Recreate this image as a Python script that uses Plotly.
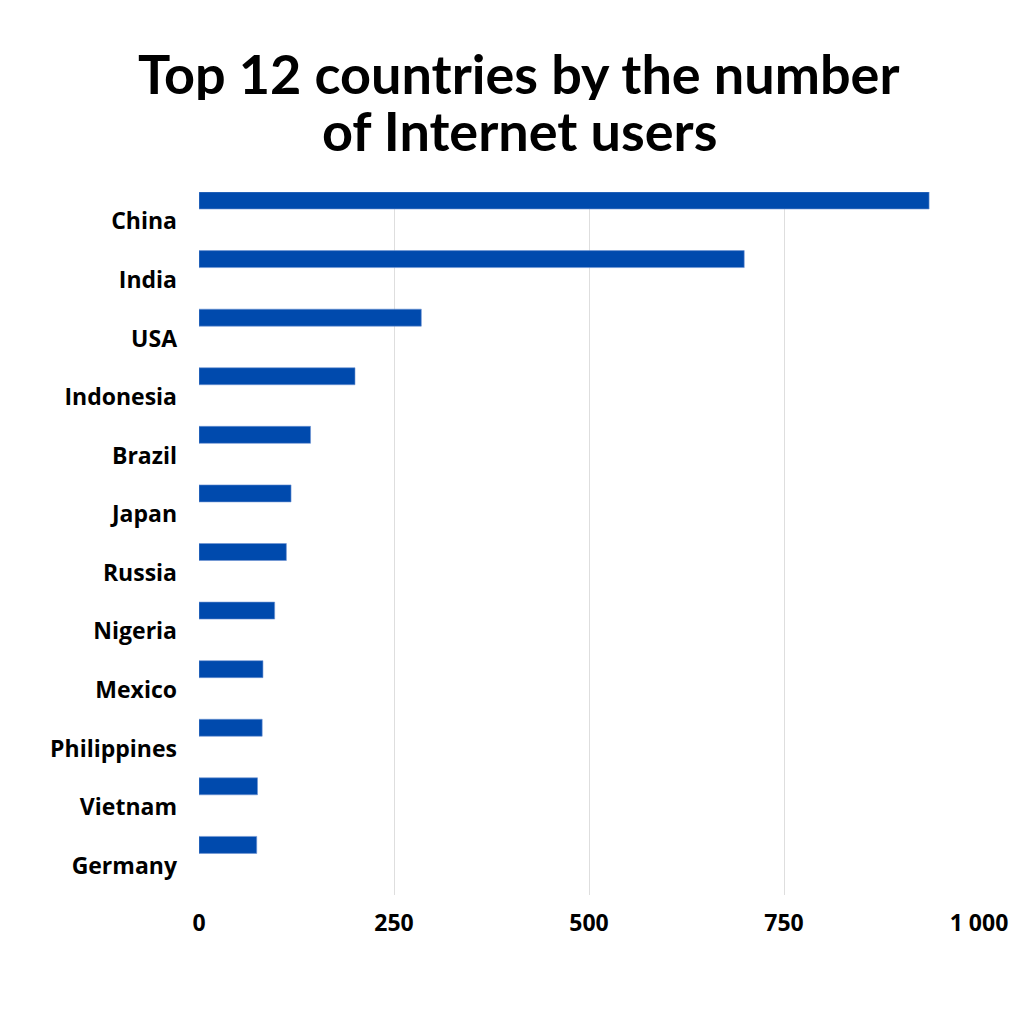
import plotly.graph_objects as go

countries = ["China", "India", "USA", "Indonesia", "Brazil", "Japan", "Russia",
             "Nigeria", "Mexico", "Philippines", "Vietnam", "Germany"]
users = [936, 699, 285, 200, 143, 118, 112, 97, 82, 81, 75, 74]
x_ticks = [0, 250, 500, 750, 1000]
title_lines = ["Top 12 countries by the number", "of Internet users"]

fig = go.Figure()
fig.add_trace(go.Bar(
    x=users, y=countries, orientation="h",
    marker=dict(color="#004aad", line=dict(color="#6f93d4", width=0.6)),
    width=0.29, offset=-0.5,
    hoverinfo="x+y",
))

# page has an 8px body margin; figure is 1016x1016
H_TOP, H_PLOT = 184, 703
def paper_y(px_page):
    return 1 + (H_TOP - (px_page - 8)) / H_PLOT

for line, py in zip(title_lines, [73, 130]):
    fig.add_annotation(
        text=line, xref="paper", yref="paper",
        x=(519 - 199) / 780, y=paper_y(py), xanchor="center", yanchor="middle",
        showarrow=False, height=54, valign="middle",
        font=dict(family="Lato", size=54, color="black", weight="bold"),
    )

fig.update_layout(
    width=1016, height=1016,
    paper_bgcolor="white", plot_bgcolor="white",
    margin=dict(l=191, r=45, t=184, b=129),
    separators=". ",
    showlegend=False,
    xaxis=dict(
        range=[0, 1000], tickvals=x_ticks, tickformat=",d",
        showgrid=True, gridcolor="#dedede", gridwidth=1,
        zeroline=False, showline=False, automargin=False,
        tickfont=dict(family="Open Sans", size=23, color="black", weight="bold"),
        ticklabelstandoff=12,
    ),
    yaxis=dict(
        autorange="reversed", showgrid=False, zeroline=False, showline=False,
        automargin=False,
        tickfont=dict(family="Open Sans", size=23, color="black", weight="bold"),
        ticklabelstandoff=21,
    ),
)

fig.write_html("out.html")
